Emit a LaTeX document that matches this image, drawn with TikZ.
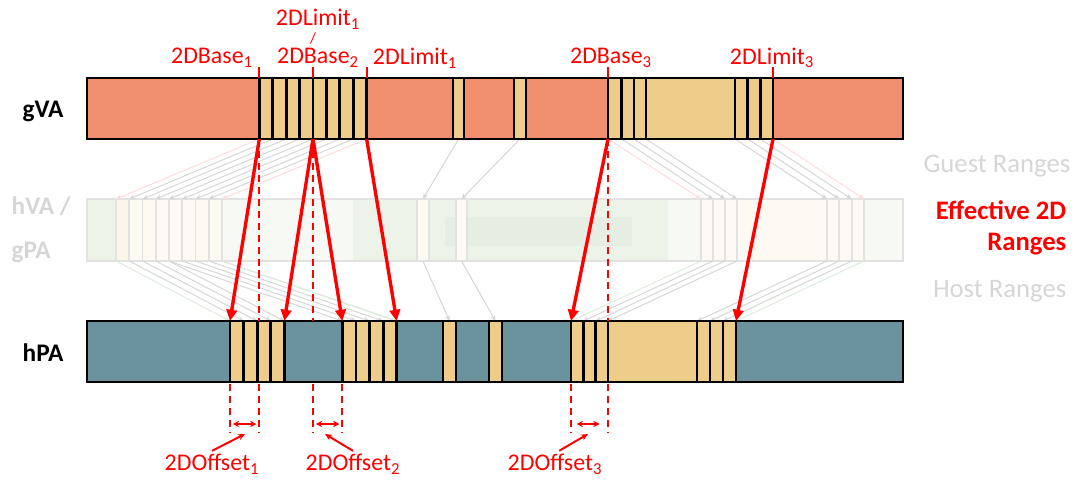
\documentclass[tikz,border=0pt]{standalone}
\usepackage{fontspec}
\setmainfont{Carlito}
\usepackage{tikz}
\usetikzlibrary{arrows.meta}
\definecolor{gvafill}{RGB}{239,143,110}
\definecolor{hpafill}{RGB}{107,147,158}
\definecolor{rangefill}{RGB}{238,205,138}
\definecolor{ghostgreen}{RGB}{238,243,234}
\definecolor{ghostpale}{RGB}{247,249,245}
\definecolor{ghostdeep}{RGB}{230,238,227}
\definecolor{ghostline}{RGB}{226,226,226}
\definecolor{ghostcell}{RGB}{252,250,243}
\definecolor{ghosttext}{RGB}{214,214,214}

\begin{document}
\begin{tikzpicture}[x=0.025cm, y=-0.025cm,
  every node/.style={font=\fontsize{17}{20}\selectfont},
  bar/.style={draw=black, line width=2pt},
  cell/.style={draw=black, line width=2pt, fill=rangefill},
  ghostcellbox/.style={draw=ghostline, line width=1.2pt, fill=ghostcell},
  mapto/.style={draw=red, line width=2.4pt, -{Triangle[length=8pt,width=7.5pt]}},
  faint/.style={draw=gray!32, line width=0.7pt, -{Stealth[length=4pt,width=3.5pt]}},
  faintred/.style={faint, draw=red!14},
  faintgreen/.style={faint, draw=green!50!black!14},
  marker/.style={draw=red, line width=1.5pt, dash pattern=on 5pt off 3.5pt},
  tick/.style={draw=red, line width=1.5pt},
  offset/.style={draw=red, line width=1.4pt, {Stealth[length=4.5pt,width=4.5pt]}-{Stealth[length=4.5pt,width=4.5pt]}},
  pointer/.style={draw=red, line width=1.4pt, -{Stealth[length=5pt,width=4.5pt]}},
  lbl/.style={text=red, inner sep=0pt},
  axis/.style={inner sep=1pt, font=\fontsize{18}{22}\selectfont\bfseries},
  side/.style={inner sep=1pt, anchor=east, font=\fontsize{19}{23}\selectfont}]

\useasboundingbox (0,0) rectangle (1082,480);

% Anchor points on the three bars (gVA bottom, hVA/gPA top+bottom, hPA top)
\foreach \i in {0,...,8} {
  \coordinate (gvA\i) at ({259.3+13.42*\i},139);
  \coordinate (hvA\i) at ({116+13.25*\i},199);
  \coordinate (gpA\i) at ({116+13.25*\i},261);
}
\foreach \i in {0,...,4} {
  \coordinate (hpA\i) at ({230+13.6*\i},321);
  \coordinate (hpB\i) at ({342.3+13.6*\i},321);
}
\foreach \i/\g/\m/\h in {0/608/701/571, 1/621.7/713/583.3, 2/634/725/595.7, 3/646/737/608} {
  \coordinate (gvC\i) at (\g,139);
  \coordinate (hvC\i) at (\m,199);
  \coordinate (gpC\i) at (\m,261);
  \coordinate (hpC\i) at (\h,321);
}
\foreach \i/\g/\m/\h in {0/735/827/697, 1/747.7/839.3/710, 2/760.3/851.7/723, 3/773/864/736} {
  \coordinate (gvD\i) at (\g,139);
  \coordinate (hvD\i) at (\m,199);
  \coordinate (gpD\i) at (\m,261);
  \coordinate (hpD\i) at (\h,321);
}
\coordinate (gvS1) at (458.5,139); \coordinate (hvS1) at (423,199);
\coordinate (gpS1) at (423,261);   \coordinate (hpS1) at (449.5,321);
\coordinate (gvS2) at (520,139);   \coordinate (hvS2) at (461.5,199);
\coordinate (gpS2) at (461.5,261); \coordinate (hpS2) at (495.5,321);

% Middle bar: hVA / gPA (faded)
\fill[ghostgreen] (87,199) rectangle (903,261);
\fill[ghostpale] (222,199) rectangle (353,261);
\fill[ghostpale] (668,199) rectangle (701,261);
\fill[ghostpale] (864,199) rectangle (903,261);
\fill[ghostdeep] (445,217) rectangle (632,246);
\draw[ghostline, line width=1.2pt] (87,199) rectangle (903,261);
\foreach \i in {0,...,7}
  \draw[ghostcellbox] ({116+13.25*\i},199) rectangle ++(13.25,62);
\draw[ghostcellbox, draw=gray!22, fill=rangefill!18] (116,199) rectangle ++(13.25,62);
\draw[ghostcellbox] (417,199) rectangle (429,261);
\draw[ghostcellbox] (456,199) rectangle (467,261);
\foreach \a/\b in {701/713, 713/725, 725/737, 737/827, 827/839.3, 839.3/851.7, 851.7/864}
  \draw[ghostcellbox] (\a,199) rectangle (\b,261);

% Guest ranges (faded)
\draw[faintred] (gvA0) -- (hvA0);
\foreach \i in {1,...,7} \draw[faint] (gvA\i) -- (hvA\i);
\draw[faintred] (gvA8) -- (hvA8);
\draw[faint] (gvS1) -- (hvS1);
\draw[faint] (gvS2) -- (hvS2);
\draw[faintred] (gvC0) -- (hvC0);
\foreach \i in {1,2,3} \draw[faint] (gvC\i) -- (hvC\i);
\foreach \i in {0,1,2} \draw[faint] (gvD\i) -- (hvD\i);
\draw[faintred] (gvD3) -- (hvD3);

% Host ranges (faded)
\draw[faintgreen] (gpA0) -- (hpA0);
\foreach \i [evaluate=\i as \j using int(\i+4)] in {1,...,4} {
  \draw[faint] (gpA\i) -- (hpA\i);
  \draw[faint] (gpA\j) -- (hpB\i);
}
\draw[faint] (gpA4) -- (hpB0);
\draw[faintgreen] (gpA8) -- (hpB4);
\draw[faint] (gpS1) -- (hpS1);
\draw[faint] (gpS2) -- (hpS2);
\draw[faintgreen] (gpC0) -- (hpC0);
\foreach \i in {1,2,3} \draw[faint] (gpC\i) -- (hpC\i);
\foreach \i in {0,1,2} \draw[faint] (gpD\i) -- (hpD\i);
\draw[faintgreen] (gpD3) -- (hpD3);

% gVA bar
\draw[bar, fill=gvafill] (87,78) rectangle (903,139);
\foreach \i in {0,...,7}
  \draw[cell] ({259.3+13.42*\i},78) rectangle ++(13.42,61);
\draw[cell] (453,78) rectangle (464,139);
\draw[cell] (514,78) rectangle (526,139);
\foreach \a/\b in {608/621.7, 621.7/634, 634/646, 646/735, 735/747.7, 747.7/760.3, 760.3/773}
  \draw[cell] (\a,78) rectangle (\b,139);

% hPA bar
\draw[bar, fill=hpafill] (87,321) rectangle (903,382);
\foreach \i in {0,...,3} {
  \draw[cell] ({230+13.6*\i},321) rectangle ++(13.6,61);
  \draw[cell] ({342.3+13.6*\i},321) rectangle ++(13.6,61);
}
\draw[cell] (443,321) rectangle (456,382);
\draw[cell] (489,321) rectangle (502,382);
\foreach \a/\b in {571/583.3, 583.3/595.7, 595.7/608, 608/697, 697/710, 710/723, 723/736}
  \draw[cell] (\a,321) rectangle (\b,382);

% Effective 2D ranges
\draw[marker] (gvA0) -- (gvA0 |- hpA0);
\draw[marker] (gvA4) -- (gvA4 |- hpA0);
\draw[marker] (gvC0) -- (gvC0 |- hpA0);
\draw[mapto] (gvA0) -- (hpA0);
\draw[mapto] (gvA4) -- (hpA4);
\draw[mapto] (gvA4) -- (hpB0);
\draw[mapto] (gvA8) -- (hpB4);
\draw[mapto] (gvC0) -- (hpC0);
\draw[mapto] (gvD3) -- (hpD3);

% Ticks and labels above gVA
\foreach \x in {259.3, 313, 366.7, 608, 773}
  \draw[tick] (\x,67) -- ++(0,11);
\node[lbl] (base1) at (212,58) {2DBase\textsubscript{1}};
\node[lbl] (lim1a) at (318,19) {2DLimit\textsubscript{1}};
\node[lbl, font=\fontsize{11}{13}\selectfont] (slash) at (313,38) {/};
\node[lbl] (base2) at (318,58) {2DBase\textsubscript{2}};
\node[lbl] (lim1b) at (415,58) {2DLimit\textsubscript{1}};
\node[lbl] (base3) at (611,58) {2DBase\textsubscript{3}};
\node[lbl] (lim3) at (772,58) {2DLimit\textsubscript{3}};

% Offsets below hPA
\foreach \n/\x in {oA/230, oB/259.3, oC/313, oD/342.3, oE/571, oF/608} {
  \coordinate (\n-t) at (\x,384);
  \coordinate (\n-m) at (\x,424);
  \coordinate (\n-b) at (\x,433);
  \draw[marker] (\n-t) -- (\n-b);
}
\draw[offset, shorten <=2pt, shorten >=2pt] (oA-m) -- (oB-m);
\draw[offset, shorten <=2pt, shorten >=2pt] (oC-m) -- (oD-m);
\draw[offset, shorten <=4pt, shorten >=6pt] (oE-m) -- (oF-m);
\node[lbl] (off1) at (212,464) {2DOffset\textsubscript{1}};
\node[lbl] (off2) at (353,464) {2DOffset\textsubscript{2}};
\node[lbl] (off3) at (555,464) {2DOffset\textsubscript{3}};
\coordinate (tip1) at (245,434);
\coordinate (tip2) at (325,434);
\coordinate (tip3) at (588,434);
\draw[pointer] ([yshift=2pt]off1.north) -- (tip1);
\draw[pointer] ([yshift=2pt]off2.north) -- (tip2);
\draw[pointer] ([xshift=3pt,yshift=2pt]off3.north) -- (tip3);

% Row names
\node[axis] (gva) at (43,111) {gVA};
\node[axis, text=ghosttext, align=left, anchor=west] (hvagpa) at (10,230) {hVA /\\[9pt]gPA};
\node[axis] (hpa) at (43,353) {hPA};

% Side legend
\node[side, text=ghosttext] (guest) at (1072,166) {Guest Ranges};
\node[side, text=red, align=right, font=\fontsize{19}{22}\selectfont\bfseries] (eff) at (1068,228) {Effective 2D\\Ranges};
\node[side, text=ghosttext] (host) at (1068,291) {Host Ranges};

\end{tikzpicture}
\end{document}
